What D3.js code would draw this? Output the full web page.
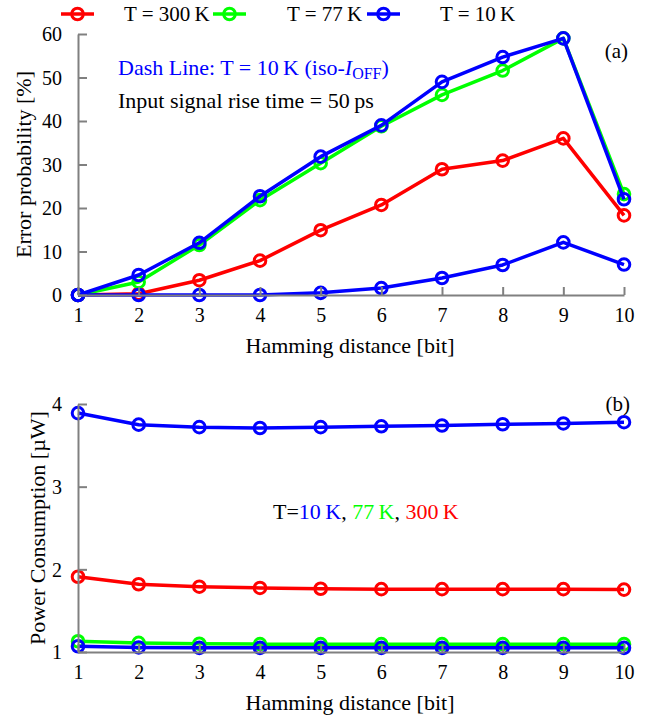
<!DOCTYPE html>
<html>
<head>
<meta charset="utf-8">
<script src="https://cdn.jsdelivr.net/npm/d3@7"></script>
<style>
  body { margin: 0; background: #fff; }
  text { font-family: "Liberation Serif", "Times New Roman", serif; }
</style>
</head>
<body>
<script>
// hamming distance (bits)
const hamming = [1, 2, 3, 4, 5, 6, 7, 8, 9, 10];

// (a) error probability [%]
const errT300 = [0, 0.3, 3.4, 7.9, 14.9, 20.7, 28.9, 30.9, 36.0, 18.3];
const errT77 = [0, 3.0, 11.5, 21.8, 30.3, 38.8, 46.0, 51.6, 59.0, 23.2];
const errT10 = [0, 4.6, 12.0, 22.7, 31.8, 39.0, 49.0, 54.7, 59.0, 22.0];
const errT10Iso = [0, 0, 0, 0, 0.5, 1.6, 3.9, 6.9, 12.1, 7.0];

// (b) power consumption [uW]
const powT10 = [3.89, 3.75, 3.72, 3.71, 3.72, 3.73, 3.74, 3.755, 3.765, 3.78];
const powT300 = [1.91, 1.82, 1.79, 1.775, 1.765, 1.76, 1.76, 1.76, 1.76, 1.755];
const powT77 = [1.13, 1.11, 1.10, 1.095, 1.095, 1.095, 1.095, 1.095, 1.095, 1.095];
const powT10Iso = [1.07, 1.055, 1.05, 1.05, 1.05, 1.05, 1.05, 1.05, 1.05, 1.05];

const errTicks = [0, 10, 20, 30, 40, 50, 60];
const powTicks = [1, 2, 3, 4];

const RED = "#ff0000", GREEN = "#00ff00", BLUE = "#0000ff", AXIS = "#808080";

const svg = d3.select("body").append("svg")
  .attr("width", 650)
  .attr("height", 716);

const x = d3.scaleLinear().domain([1, 10]).range([78, 624]);
const yErr = d3.scaleLinear().domain([0, 60]).range([295, 34]);
const yPow = d3.scaleLinear().domain([1, 4]).range([652, 404]);

function drawSeries(g, vals, y, color) {
  const pts = hamming.map((h, i) => [h, vals[i]]);
  const line = d3.line().x(d => x(d[0])).y(d => y(d[1]));
  g.append("path")
    .datum(pts)
    .attr("d", line)
    .attr("fill", "none")
    .attr("stroke", color)
    .attr("stroke-width", 3.5)
    .attr("stroke-linejoin", "round");
  g.selectAll(null).data(pts).enter().append("circle")
    .attr("cx", d => x(d[0]))
    .attr("cy", d => y(d[1]))
    .attr("r", 5.8)
    .attr("fill", "none")
    .attr("stroke", color)
    .attr("stroke-width", 3);
}

function drawAxes(y, ticks, yBase, titleX, yTitle) {
  const gx = svg.append("g")
    .attr("transform", "translate(0," + yBase + ")")
    .call(d3.axisBottom(x).tickValues(hamming).tickFormat(d3.format("d"))
      .tickSizeInner(-8).tickSizeOuter(0).tickPadding(13));
  const gy = svg.append("g")
    .attr("transform", "translate(78,0)")
    .call(d3.axisLeft(y).tickValues(ticks).tickFormat(d3.format("d"))
      .tickSizeInner(-9).tickSizeOuter(0).tickPadding(16));
  [gx, gy].forEach(g => {
    g.selectAll("path, line").attr("stroke", AXIS).attr("stroke-width", 2);
    g.selectAll("text").attr("fill", "#000").style("font-size", "20px")
      .style("font-family", "Liberation Serif");
  });
  gy.selectAll("text").attr("dy", "0.34em");

  svg.append("text")
    .attr("x", 350).attr("y", yBase + 58)
    .attr("text-anchor", "middle")
    .style("font-size", "22px")
    .text("Hamming distance [bit]");

  const [r0, r1] = y.range();
  svg.append("text")
    .attr("transform", "translate(" + titleX + "," + ((r0 + r1) / 2) + ") rotate(-90)")
    .attr("text-anchor", "middle")
    .style("font-size", "22px")
    .text(yTitle);
}

// panel (a)
const ga = svg.append("g");
drawSeries(ga, errT300, yErr, RED);
drawSeries(ga, errT77, yErr, GREEN);
drawSeries(ga, errT10, yErr, BLUE);
drawSeries(ga, errT10Iso, yErr, BLUE);
drawAxes(yErr, errTicks, 295, 31, "Error probability [%]");

// panel (b)
const gb = svg.append("g");
drawSeries(gb, powT300, yPow, RED);
drawSeries(gb, powT77, yPow, GREEN);
drawSeries(gb, powT10, yPow, BLUE);
drawSeries(gb, powT10Iso, yPow, BLUE);
drawAxes(yPow, powTicks, 652, 45, "Power Consumption [\u00b5W]");

// legend
const legend = [
  { label: "T = 300\u2009K", color: RED, lx: 61, tx: 124 },
  { label: "T = 77\u2009K", color: GREEN, lx: 213, tx: 287 },
  { label: "T = 10\u2009K", color: BLUE, lx: 367, tx: 440 }
];
const lg = svg.append("g");
legend.forEach(d => {
  lg.append("line")
    .attr("x1", d.lx).attr("x2", d.lx + 33)
    .attr("y1", 14).attr("y2", 14)
    .attr("stroke", d.color).attr("stroke-width", 3.5);
  lg.append("circle")
    .attr("cx", d.lx + 16.5).attr("cy", 14).attr("r", 5.8)
    .attr("fill", "none").attr("stroke", d.color).attr("stroke-width", 3);
  lg.append("text")
    .attr("x", d.tx).attr("y", 21)
    .style("font-size", "21px")
    .text(d.label);
});

// annotations
const note = svg.append("text")
  .attr("x", 118).attr("y", 75)
  .attr("fill", BLUE)
  .style("font-size", "22px");
note.append("tspan").text("Dash Line: T = 10\u2009K (iso-");
note.append("tspan").style("font-style", "italic").text("I");
note.append("tspan").attr("dy", 4).style("font-size", "16px").text("OFF");
note.append("tspan").attr("dy", -4).text(")");

svg.append("text")
  .attr("x", 118).attr("y", 108)
  .style("font-size", "22px")
  .text("Input signal rise time = 50\u2009ps");

svg.append("text")
  .attr("x", 628).attr("y", 58)
  .attr("text-anchor", "end")
  .style("font-size", "21px")
  .text("(a)");

svg.append("text")
  .attr("x", 630).attr("y", 411)
  .attr("text-anchor", "end")
  .style("font-size", "21px")
  .text("(b)");

const tl = svg.append("text")
  .attr("x", 273).attr("y", 519)
  .style("font-size", "22px");
tl.append("tspan").attr("fill", "#000").text("T=");
tl.append("tspan").attr("fill", BLUE).text("10\u2009K");
tl.append("tspan").attr("fill", "#000").text(", ");
tl.append("tspan").attr("fill", GREEN).text("77\u2009K");
tl.append("tspan").attr("fill", "#000").text(", ");
tl.append("tspan").attr("fill", RED).text("300\u2009K");
</script>
</body>
</html>
